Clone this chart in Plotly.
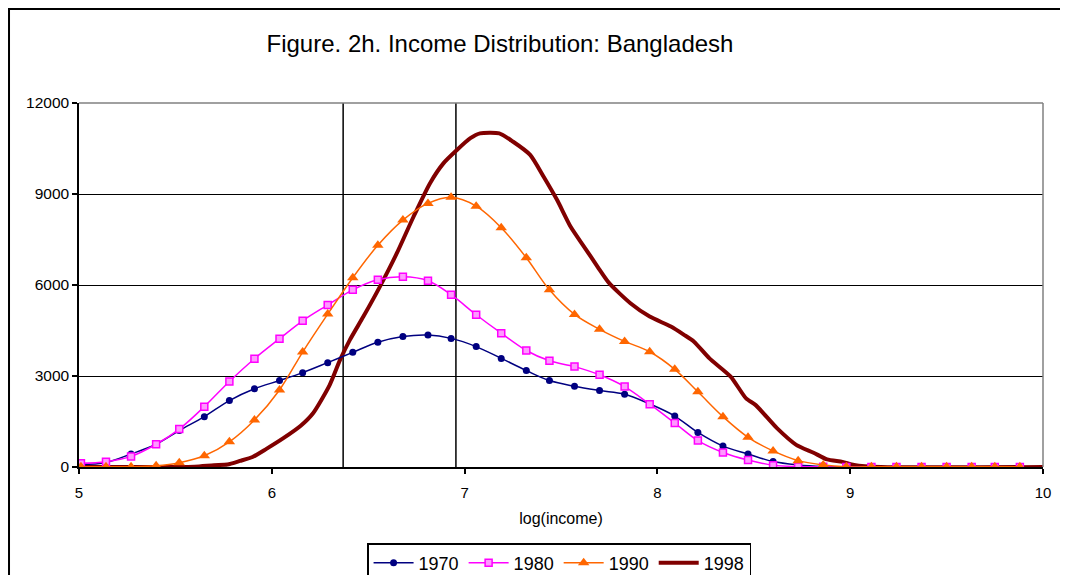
import plotly.graph_objects as go

# marker positions on log(income) axis, shared by the 1970/1980/1990 series
x_bins = [5.01, 5.14, 5.27, 5.40, 5.52, 5.65, 5.78, 5.91, 6.04, 6.16,
          6.29, 6.42, 6.55, 6.68, 6.81, 6.93, 7.06, 7.19, 7.32, 7.44,
          7.57, 7.70, 7.83, 7.96, 8.09, 8.21, 8.34, 8.47, 8.60, 8.73,
          8.86, 8.98, 9.11, 9.24, 9.37, 9.50, 9.63, 9.75, 9.88]

y_1970 = [80, 150, 430, 750, 1200, 1660, 2190, 2580, 2850, 3110,
          3440, 3780, 4110, 4300, 4350, 4240, 3970, 3580, 3180, 2850,
          2660, 2520, 2400, 2080, 1680, 1140, 690, 430, 180, 70,
          20, 10, 5, 0, 0, 0, 0, 0, 0]

y_1980 = [120, 175, 350, 750, 1250, 1990, 2820, 3570, 4230, 4820,
          5340, 5840, 6170, 6270, 6140, 5680, 5020, 4410, 3840, 3500,
          3310, 3040, 2650, 2070, 1450, 870, 480, 230, 60, 15,
          5, 0, 0, 0, 0, 0, 0, 0, 0]

y_1990 = [10, 10, 10, 40, 140, 370, 830, 1550, 2540, 3790,
          5040, 6240, 7310, 8140, 8690, 8890, 8600, 7890, 6900, 5840,
          5030, 4540, 4140, 3800, 3220, 2480, 1660, 980, 530, 210,
          70, 10, 5, 5, 5, 5, 5, 5, 5]

# 1998 is drawn as a plain smoothed line, read on a finer grid
x_1998 = [5.00, 5.40, 5.60, 5.70, 5.77, 5.835, 5.90, 5.97, 6.06, 6.15,
          6.215, 6.30, 6.354, 6.405, 6.475, 6.56, 6.648, 6.735, 6.82, 6.89,
          6.96, 7.03, 7.08, 7.18, 7.25, 7.34, 7.41, 7.48, 7.55, 7.62,
          7.69, 7.75, 7.86, 7.96, 8.07, 8.14, 8.19, 8.27, 8.38, 8.46,
          8.51, 8.62, 8.72, 8.81, 8.88, 8.96, 9.02, 9.16, 10.0]
y_1998 = [0, 0, 10, 60, 80, 200, 330, 590, 950, 1360,
          1780, 2700, 3530, 4190, 4960, 5940, 7040, 8250, 9350, 10010,
          10450, 10840, 11000, 11000, 10730, 10290, 9570, 8800, 7920, 7260,
          6600, 6060, 5400, 4960, 4630, 4350, 4130, 3580, 2980, 2260,
          2040, 1280, 730, 470, 250, 170, 70, 0, 0]

# the two vertical reference lines
ref_lines = [6.37, 6.955]

y_ticks = [0, 3000, 6000, 9000, 12000]
x_ticks = [5, 6, 7, 8, 9, 10]

FONT = "Liberation Sans, Arial, sans-serif"

fig = go.Figure()

fig.add_trace(go.Scatter(
    x=x_1998, y=y_1998, name="1998", mode="lines",
    line=dict(color="#800000", width=4, shape="spline", smoothing=0.6),
    legendrank=4,
))
fig.add_trace(go.Scatter(
    x=x_bins, y=y_1970, name="1970", mode="lines+markers",
    line=dict(color="#000080", width=1.5, shape="spline"),
    marker=dict(symbol="circle", size=7, color="#000080"),
    legendrank=1,
))
fig.add_trace(go.Scatter(
    x=x_bins, y=y_1980, name="1980", mode="lines+markers",
    line=dict(color="#FF00FF", width=1.5, shape="spline"),
    marker=dict(symbol="square", size=7, color="#FF99FF",
                line=dict(color="#FF00FF", width=1.5)),
    legendrank=2,
))
fig.add_trace(go.Scatter(
    x=x_bins, y=y_1990, name="1990", mode="lines+markers",
    line=dict(color="#FF6600", width=1.5, shape="spline"),
    marker=dict(symbol="triangle-up", size=10, color="#FF6600"),
    legendrank=3,
))

for xv in ref_lines:
    fig.add_shape(type="line", xref="x", yref="y", x0=xv, x1=xv,
                  y0=0, y1=12000, line=dict(color="black", width=1.5),
                  layer="below")

# grey top and right plot border (Excel style)
fig.add_shape(type="line", xref="paper", yref="paper", x0=0, x1=1, y0=1, y1=1,
              line=dict(color="#808080", width=1.5))
fig.add_shape(type="line", xref="paper", yref="paper", x0=1, x1=1, y0=0, y1=1,
              line=dict(color="#808080", width=1.5))
# outer chart frame
fig.add_shape(type="rect", xref="paper", yref="paper",
              x0=-0.0726, x1=1.0244, y0=-0.35, y1=1.2582,
              line=dict(color="black", width=2))

# page has an 8px body margin, so the figure is a bit smaller than the window
fig.update_layout(
    width=1060, height=567,
    margin=dict(l=71, r=25, t=95, b=108, autoexpand=False),
    paper_bgcolor="white", plot_bgcolor="white",
    font=dict(family=FONT, color="black", size=15),
    title=dict(text="Figure. 2h. Income Distribution: Bangladesh",
               x=0.4367, xref="paper", xanchor="center",
               y=0.937, yanchor="middle",
               font=dict(size=24, family=FONT, color="black")),
    showlegend=True,
    legend=dict(orientation="h", x=0.498, xanchor="center", y=-0.209,
                yanchor="top", bordercolor="black", borderwidth=1.5,
                font=dict(size=18, family=FONT), tracegroupgap=0,
                itemwidth=40),
)

fig.update_xaxes(
    range=[5, 10], tickvals=x_ticks, showgrid=False, zeroline=False,
    showline=True, linecolor="black", linewidth=1.5,
    ticks="outside", ticklen=5, tickcolor="black", tickwidth=1.5,
    ticklabelstandoff=6,
    title=dict(text="log(income)", font=dict(size=16), standoff=13),
    tickfont=dict(size=15),
)
fig.update_yaxes(
    range=[0, 12000], tickvals=y_ticks, tickformat="d",
    showgrid=True, gridcolor="black", gridwidth=1.2, zeroline=False,
    showline=True, linecolor="black", linewidth=1.5,
    ticks="outside", ticklen=5, tickcolor="black", tickwidth=1.5,
    tickfont=dict(size=15.5),
)

fig.write_html("out.html")
